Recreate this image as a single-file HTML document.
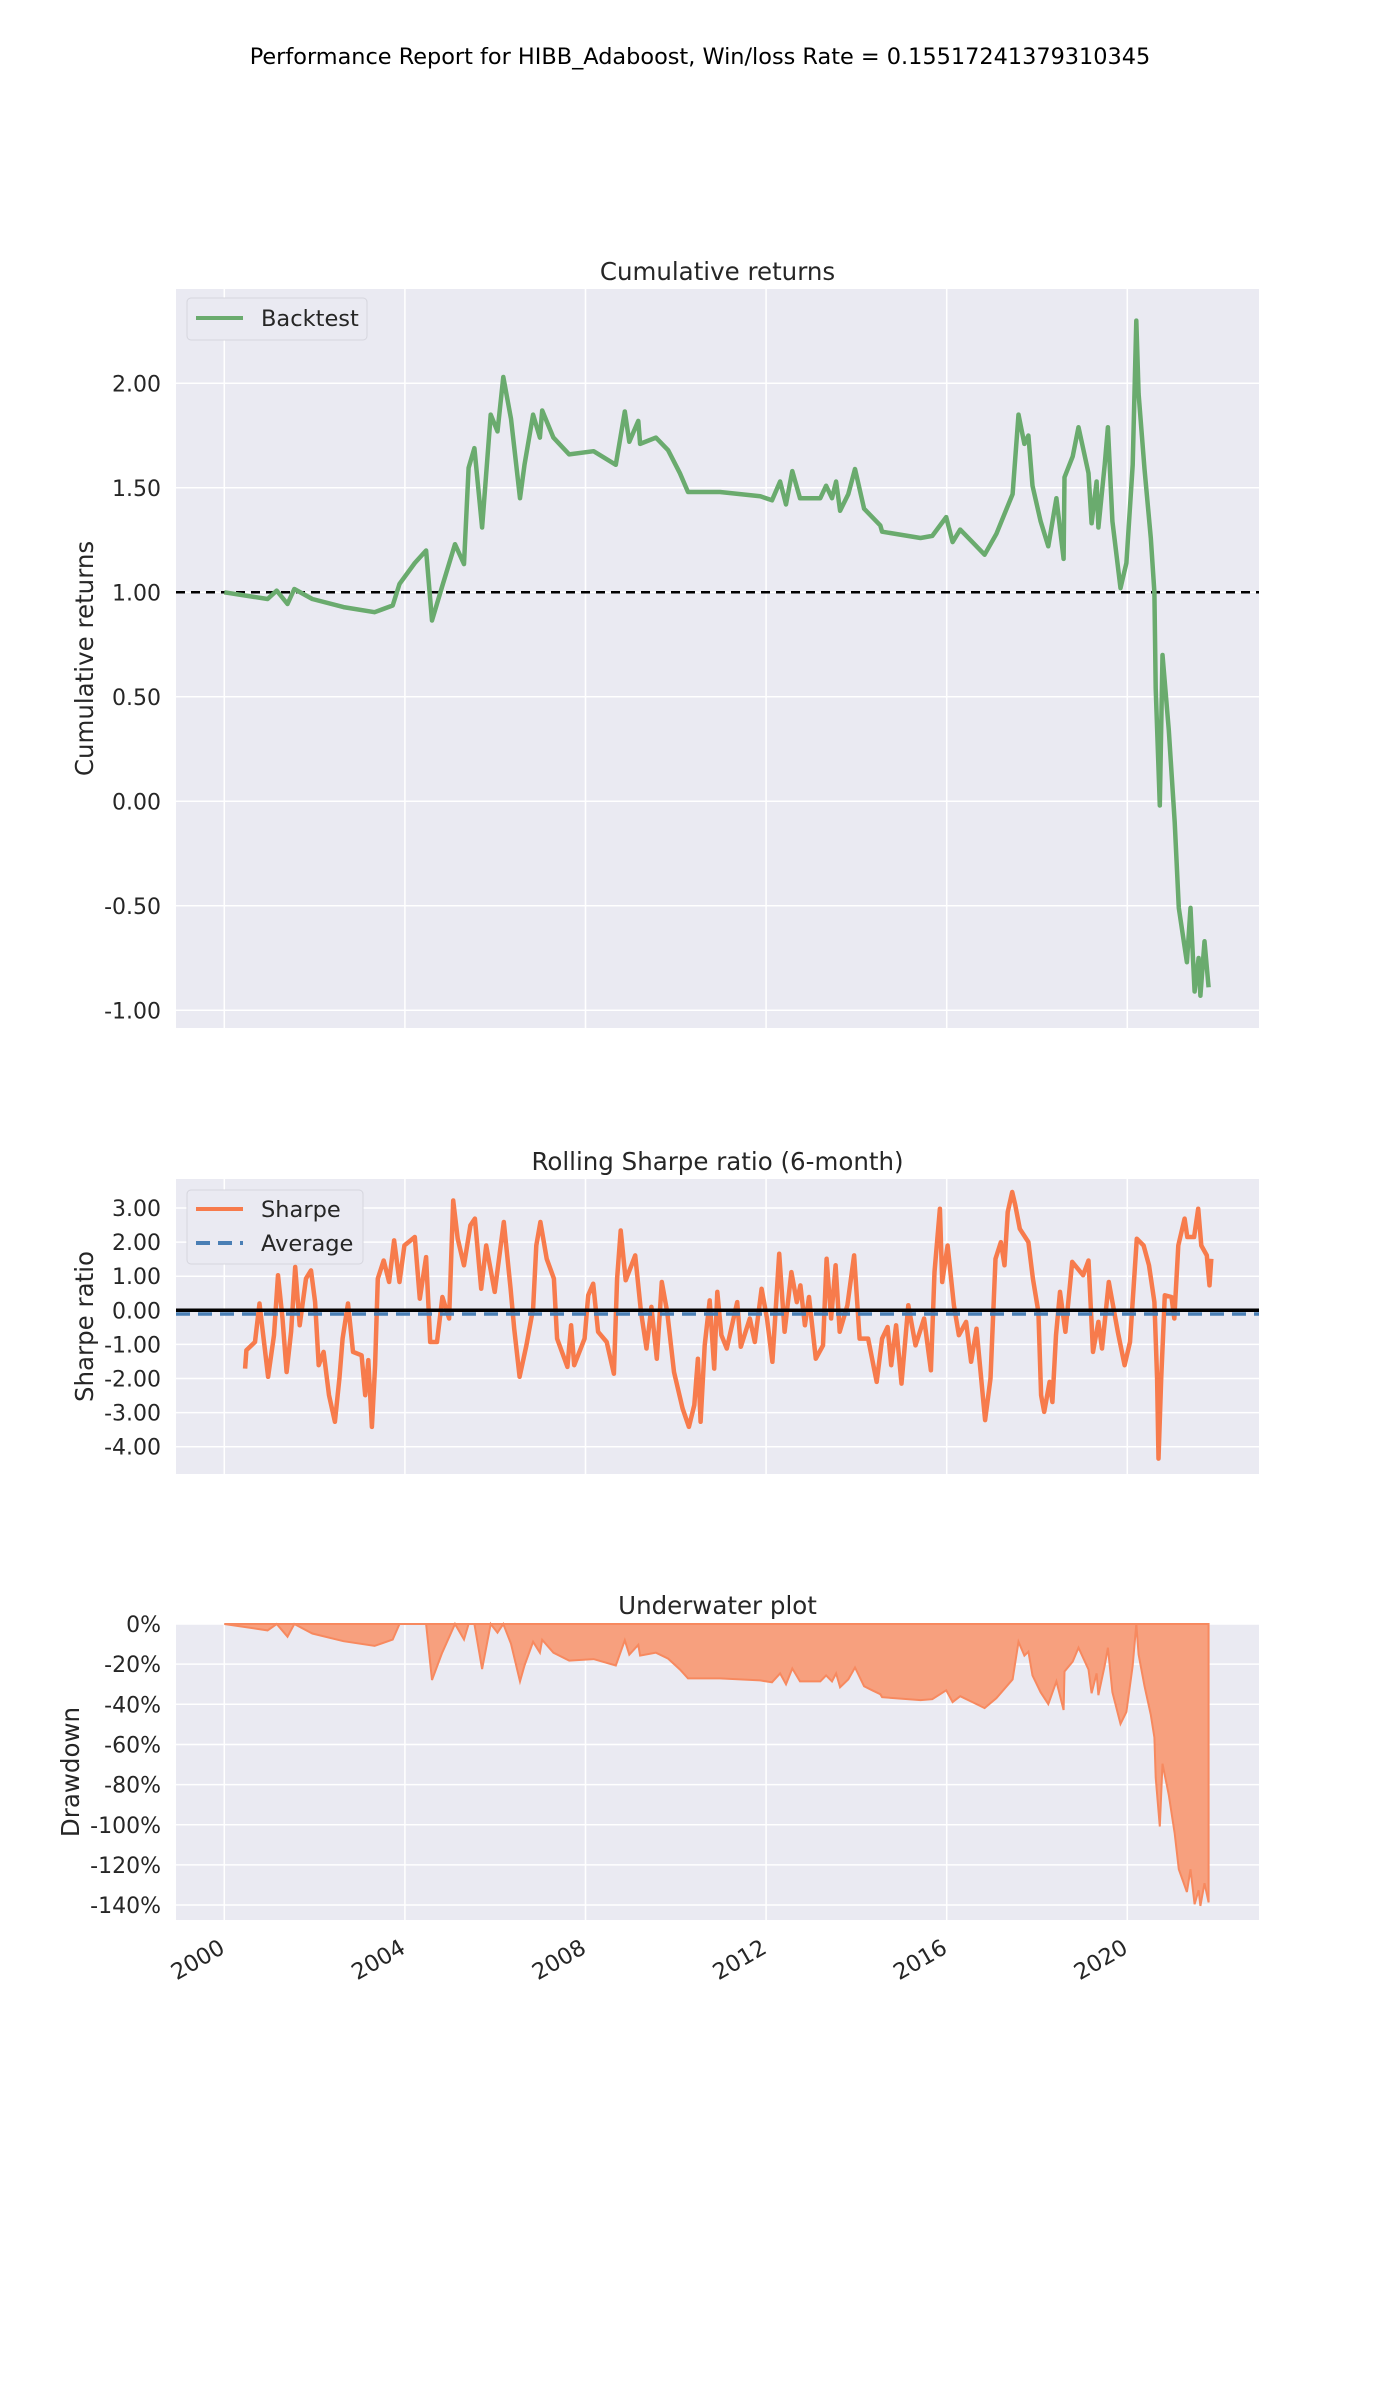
<!DOCTYPE html>
<html><head><meta charset="utf-8"><style>
html,body{margin:0;padding:0;background:#fff;}
svg{display:block;font-family:"DejaVu Sans","Liberation Sans",sans-serif;}
</style></head><body>
<svg id="fig" width="1400" height="2400" viewBox="0 0 1400 2400" xmlns="http://www.w3.org/2000/svg">
<text x="700" y="64" text-anchor="middle" font-size="22.4" fill="#000">Performance Report for HIBB_Adaboost, Win/loss Rate = 0.15517241379310345</text>
</svg>
<script>
// ---- data ----
const cumYears = [2000.0,2000.96,2001.16,2001.4,2001.55,2001.95,2002.64,2003.33,2003.73,2003.88,2004.22,2004.47,2004.6,2004.82,2005.11,2005.31,2005.41,2005.54,2005.71,2005.9,2006.05,2006.18,2006.35,2006.55,2006.65,2006.84,2006.99,2007.04,2007.29,2007.64,2008.18,2008.67,2008.87,2008.97,2009.17,2009.21,2009.56,2009.83,2010.09,2010.27,2010.98,2011.87,2012.13,2012.31,2012.44,2012.58,2012.75,2013.2,2013.33,2013.46,2013.55,2013.64,2013.82,2013.97,2014.17,2014.35,2014.53,2014.57,2015.42,2015.68,2015.99,2016.13,2016.3,2016.57,2016.84,2017.1,2017.46,2017.59,2017.72,2017.81,2017.9,2018.08,2018.25,2018.43,2018.59,2018.61,2018.79,2018.92,2019.14,2019.21,2019.32,2019.36,2019.5,2019.57,2019.67,2019.85,2019.98,2020.12,2020.2,2020.25,2020.38,2020.52,2020.6,2020.63,2020.72,2020.78,2020.92,2021.05,2021.14,2021.32,2021.4,2021.49,2021.58,2021.62,2021.71,2021.8];
const cumValues = [1.0,0.968,1.008,0.944,1.016,0.968,0.929,0.905,0.937,1.04,1.14,1.2,0.865,1.024,1.23,1.135,1.595,1.69,1.31,1.85,1.77,2.03,1.83,1.45,1.61,1.85,1.74,1.87,1.74,1.66,1.675,1.61,1.865,1.72,1.82,1.71,1.74,1.68,1.57,1.48,1.48,1.46,1.44,1.53,1.42,1.58,1.45,1.45,1.51,1.45,1.53,1.39,1.47,1.59,1.40,1.36,1.32,1.29,1.26,1.27,1.36,1.24,1.30,1.24,1.18,1.28,1.47,1.85,1.71,1.75,1.51,1.34,1.22,1.45,1.16,1.55,1.65,1.79,1.57,1.33,1.53,1.31,1.61,1.79,1.34,1.02,1.14,1.61,2.30,1.95,1.59,1.26,1.0,0.54,-0.02,0.70,0.34,-0.10,-0.51,-0.77,-0.51,-0.91,-0.75,-0.93,-0.67,-0.89];
const shYears = [2000.46,2000.49,2000.68,2000.78,2000.87,2000.97,2001.1,2001.19,2001.29,2001.38,2001.48,2001.57,2001.67,2001.81,2001.92,2002.01,2002.09,2002.2,2002.32,2002.45,2002.55,2002.62,2002.74,2002.85,2003.04,2003.12,2003.19,2003.27,2003.34,2003.4,2003.53,2003.65,2003.76,2003.88,2003.99,2004.22,2004.33,2004.47,2004.56,2004.71,2004.83,2004.98,2005.07,2005.17,2005.31,2005.45,2005.55,2005.69,2005.8,2005.99,2006.19,2006.34,2006.42,2006.54,2006.69,2006.84,2006.91,2007.0,2007.14,2007.3,2007.37,2007.6,2007.68,2007.75,2007.98,2008.06,2008.17,2008.28,2008.47,2008.63,2008.7,2008.78,2008.89,2009.1,2009.23,2009.35,2009.46,2009.58,2009.69,2009.81,2009.96,2010.15,2010.29,2010.41,2010.49,2010.55,2010.64,2010.75,2010.85,2010.92,2011.01,2011.13,2011.36,2011.44,2011.64,2011.75,2011.9,2012.02,2012.14,2012.29,2012.41,2012.56,2012.68,2012.76,2012.86,2012.95,2013.1,2013.26,2013.34,2013.44,2013.54,2013.63,2013.8,2013.95,2014.07,2014.26,2014.45,2014.57,2014.69,2014.77,2014.88,2015.0,2015.15,2015.31,2015.5,2015.65,2015.73,2015.85,2015.9,2016.02,2016.16,2016.27,2016.43,2016.54,2016.66,2016.85,2016.97,2017.08,2017.2,2017.28,2017.35,2017.45,2017.52,2017.62,2017.81,2017.91,2018.03,2018.09,2018.16,2018.28,2018.34,2018.42,2018.51,2018.63,2018.78,2019.02,2019.14,2019.24,2019.36,2019.44,2019.59,2019.79,2019.94,2020.06,2020.21,2020.36,2020.48,2020.6,2020.66,2020.69,2020.75,2020.83,2020.98,2021.04,2021.13,2021.27,2021.33,2021.48,2021.57,2021.64,2021.76,2021.82,2021.86];
const shValues = [-1.71,-1.17,-0.93,0.2,-0.83,-1.95,-0.73,1.03,-0.24,-1.81,-0.63,1.27,-0.44,0.93,1.17,0.24,-1.61,-1.22,-2.49,-3.27,-2.0,-0.83,0.2,-1.22,-1.32,-2.49,-1.46,-3.42,-1.61,0.93,1.46,0.83,2.05,0.83,1.9,2.15,0.34,1.56,-0.93,-0.93,0.39,-0.24,3.22,2.1,1.32,2.49,2.69,0.63,1.9,0.54,2.59,0.63,-0.54,-1.95,-1.03,0.05,1.9,2.59,1.51,0.93,-0.83,-1.66,-0.44,-1.61,-0.83,0.44,0.78,-0.63,-0.93,-1.86,0.93,2.34,0.88,1.61,-0.05,-1.12,0.1,-1.42,0.83,-0.05,-1.81,-2.88,-3.42,-2.78,-1.42,-3.27,-1.03,0.29,-1.71,0.54,-0.73,-1.12,0.24,-1.07,-0.24,-0.93,0.63,-0.24,-1.51,1.66,-0.63,1.12,0.24,0.73,-0.44,0.39,-1.42,-1.03,1.51,-0.24,1.32,-0.63,0.15,1.61,-0.83,-0.83,-2.1,-0.83,-0.49,-1.61,-0.44,-2.15,0.15,-1.03,-0.24,-1.76,1.12,2.98,0.83,1.9,0.15,-0.73,-0.34,-1.51,-0.54,-3.22,-2.0,1.51,2.0,1.32,2.88,3.47,3.08,2.39,2.0,0.93,-0.05,-2.49,-2.98,-2.1,-2.69,-0.73,0.54,-0.63,1.42,1.03,1.46,-1.22,-0.34,-1.12,0.83,-0.63,-1.61,-0.93,2.1,1.9,1.32,0.24,-2.0,-4.35,-2.0,0.44,0.39,-0.24,1.9,2.69,2.15,2.15,2.98,1.9,1.61,0.73,1.51];
const shAverage = -0.08;
const cumTicks = [2.0,1.5,1.0,0.5,0.0,-0.5,-1.0];
const shTicks = [3,2,1,0,-1,-2,-3,-4];
const ddTicks = [0,-20,-40,-60,-80,-100,-120,-140];
const yearTicks = [2000,2004,2008,2012,2016,2020];

// ---- layout ----
const NS='http://www.w3.org/2000/svg';
const svg=document.getElementById('fig');
const L=176,R=1259;
const xS=y=>224.3+(y-2000)*45.15;
const y1=v=>592.3-(v-1)*209;
const y2=v=>1310.3-v*34.1;
const y3=p=>1624-p*(40.15/20);
function mk(tag,attrs,parent){const e=document.createElementNS(NS,tag);for(const k in attrs)e.setAttribute(k,attrs[k]);(parent||svg).appendChild(e);return e;}

function axes(name,top,bot,title,titleY,ylabel,ylabelX,ticks,yf,fmt){
  const g=mk('g',{});
  
  
  const bg=mk('rect',{x:L,y:top,width:R-L,height:bot-top,fill:'#eaeaf2'},g);
  
  
  yearTicks.forEach(t=>{const l=mk('line',{x1:xS(t),x2:xS(t),y1:top,y2:bot,stroke:'#fff','stroke-width':1.5},g);
    
    });
  ticks.forEach(t=>{const yy=yf(t);
    const l=mk('line',{x1:L,x2:R,y1:yy,y2:yy,stroke:'#fff','stroke-width':1.5},g);
    
    
    const tx=mk('text',{x:161,y:yy+8,'text-anchor':'end','font-size':22,fill:'#262626'},g);
    tx.textContent=fmt(t);
    
    });
  const ti=mk('text',{x:(L+R)/2,y:titleY,'text-anchor':'middle','font-size':24.5,fill:'#262626'},g);
  ti.textContent=title;
  
  
  const cy=(top+bot)/2;
  const yl=mk('text',{x:ylabelX,y:cy,'text-anchor':'middle','font-size':24.5,fill:'#262626',transform:`rotate(-90 ${ylabelX} ${cy})`},g);
  yl.textContent=ylabel;
  
  
  return g;
}
function pts(xs,vs,yf){return xs.map((x,i)=>xS(x).toFixed(1)+','+yf(vs[i]).toFixed(1)).join(' ');}

// Plot 1
const g1=axes('cumulative-returns-axes',289,1028,'Cumulative returns',280,'Cumulative returns',93,cumTicks,y1,v=>v.toFixed(2));
const base=mk('line',{x1:L,x2:R,y1:y1(1),y2:y1(1),stroke:'#000','stroke-width':2.5,'stroke-dasharray':'9,6'},g1);


const cl=mk('polyline',{points:pts(cumYears,cumValues,y1),fill:'none',stroke:'#6aab6e','stroke-width':4.5,'stroke-linejoin':'round'},g1);


const lg1=mk('g',{},g1);


mk('rect',{x:187,y:298,width:180,height:42,rx:4,fill:'#eaeaf2',stroke:'#d5d5dd'},lg1);
mk('line',{x1:196,x2:243,y1:318,y2:318,stroke:'#6aab6e','stroke-width':4},lg1);
const lt1=mk('text',{x:261,y:326,'font-size':22.5,fill:'#262626'},lg1);lt1.textContent='Backtest';



// Plot 2
const g2=axes('rolling-sharpe-axes',1179,1474,'Rolling Sharpe ratio (6-month)',1170,'Sharpe ratio',93,shTicks,y2,v=>v.toFixed(2));
const sl=mk('polyline',{points:pts(shYears,shValues,y2),fill:'none',stroke:'#f77b4c','stroke-width':4.5,'stroke-linejoin':'round'},g2);


const zl=mk('line',{x1:L,x2:R,y1:y2(0),y2:y2(0),stroke:'#000','stroke-width':3.5},g2);


const av=mk('line',{x1:L,x2:R,y1:y2(shAverage)+1,y2:y2(shAverage)+1,stroke:'#4a7fb5','stroke-width':3.5,'stroke-dasharray':'14,8'},g2);


const lg2=mk('g',{},g2);


mk('rect',{x:187,y:1190,width:176,height:74,rx:4,fill:'#eaeaf2',stroke:'#d5d5dd'},lg2);
mk('line',{x1:196,x2:243,y1:1209,y2:1209,stroke:'#f77b4c','stroke-width':4},lg2);
mk('line',{x1:196,x2:243,y1:1243,y2:1243,stroke:'#4a7fb5','stroke-width':4,'stroke-dasharray':'14,8'},lg2);
const lt2=mk('text',{x:261,y:1217,'font-size':22.5,fill:'#262626'},lg2);lt2.textContent='Sharpe';


const lt3=mk('text',{x:261,y:1251,'font-size':22.5,fill:'#262626'},lg2);lt3.textContent='Average';



// Plot 3 (drawdown derived from cumulative returns)
const g3=axes('underwater-axes',1624,1920,'Underwater plot',1614,'Drawdown',79,ddTicks,y3,v=>v+'%');
let mx=-Infinity;const dd=cumValues.map(v=>{mx=Math.max(mx,v);return (v/mx-1)*100;});
const p=pts(cumYears,dd,y3);
const area=mk('polygon',{points:xS(cumYears[0])+','+y3(0)+' '+p+' '+xS(cumYears[cumYears.length-1])+','+y3(0),fill:'#f7a07e',stroke:'#f7895f','stroke-width':2},g3);


yearTicks.forEach(t=>{const x=xS(t)+2;
  const tx=mk('text',{x:x,y:1952,'text-anchor':'end','font-size':22.5,fill:'#262626',transform:`rotate(-30 ${x} 1952)`},g3);
  tx.textContent=t;
  
  });
</script>
</body></html>
